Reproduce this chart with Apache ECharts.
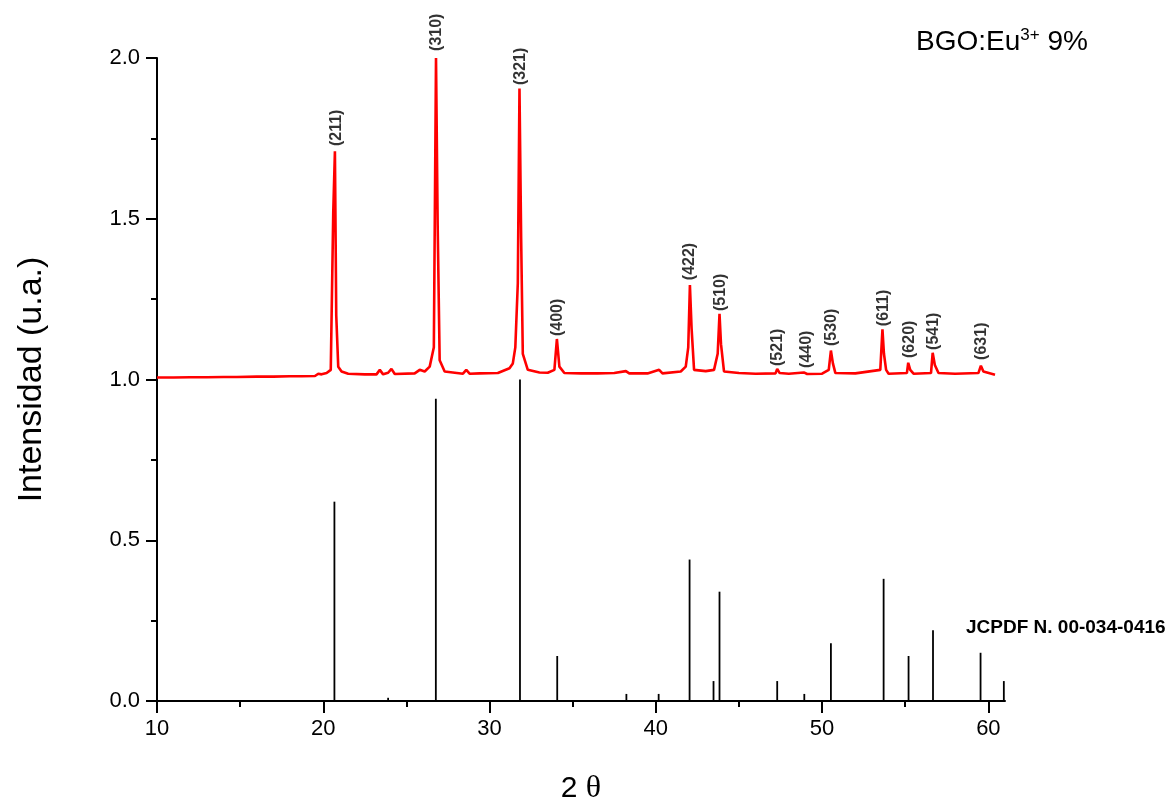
<!DOCTYPE html>
<html>
<head>
<meta charset="utf-8">
<script src="https://cdn.jsdelivr.net/npm/echarts@6/dist/echarts.min.js"></script>
<style>
html,body{margin:0;padding:0;background:#fff;}
#chart{width:1171px;height:804px;}
</style>
</head>
<body>
<div id="chart"></div>
<script>
// Measured XRD pattern (red), 2theta vs normalized intensity (offset +1)
const trace2theta = [10,11,12,13,14,14.6,14.7,14.8,16,17,18,18.5,18.6,18.7,19.5,19.7,19.9,20.2,20.45,20.6,20.7,20.78,20.9,21.1,21.5,22.5,23.2,23.4,23.6,23.9,24.1,24.3,25.5,25.8,26.1,26.4,26.65,26.78,26.88,27.0,27.3,28.4,28.6,28.8,29.4,30.5,31.2,31.4,31.55,31.7,31.8,31.9,32.0,32.3,33.0,33.5,33.9,34.05,34.2,34.5,35.5,36.5,37.5,38.2,38.4,39.5,40.2,40.4,41.5,41.8,41.95,42.05,42.15,42.3,43.0,43.5,43.72,43.83,43.92,44.1,45,46,47.2,47.3,47.45,48.0,48.9,49.1,50.0,50.4,50.53,50.65,50.8,52.0,53.5,53.63,53.72,53.85,54.0,55.1,55.18,55.3,55.5,56.55,56.65,56.78,57.0,58.0,59.4,59.55,59.7,60.4];
const traceIntensity = [1.006,1.006,1.007,1.007,1.008,1.008,1.014,1.008,1.009,1.009,1.010,1.010,1.016,1.010,1.011,1.018,1.016,1.020,1.030,1.520,1.710,1.200,1.040,1.025,1.018,1.016,1.016,1.030,1.016,1.021,1.033,1.017,1.019,1.030,1.025,1.040,1.100,2.000,1.480,1.060,1.025,1.018,1.030,1.018,1.019,1.020,1.035,1.050,1.100,1.300,1.905,1.440,1.080,1.030,1.022,1.021,1.030,1.126,1.040,1.020,1.019,1.019,1.020,1.026,1.019,1.019,1.030,1.019,1.025,1.040,1.100,1.294,1.160,1.030,1.026,1.030,1.080,1.204,1.110,1.025,1.020,1.018,1.019,1.033,1.020,1.018,1.022,1.017,1.018,1.030,1.090,1.050,1.020,1.019,1.030,1.156,1.080,1.030,1.018,1.020,1.052,1.030,1.018,1.020,1.083,1.045,1.020,1.018,1.020,1.043,1.025,1.015];

// Reference pattern JCPDF 00-034-0416 (sticks)
const ref2theta = [20.67,23.9,26.77,31.83,34.07,38.23,40.17,42.03,43.47,43.83,47.3,48.93,50.53,53.7,55.2,56.67,59.53,60.93];
const refIntensity = [0.62,0.01,0.94,1.0,0.14,0.022,0.022,0.44,0.062,0.34,0.062,0.022,0.18,0.38,0.14,0.22,0.15,0.062];

// Miller index labels
const hklText = ['(211)','(310)','(321)','(400)','(422)','(510)','(521)','(440)','(530)','(611)','(620)','(541)','(631)'];
const hkl2theta = [20.78,26.82,31.86,34.1,42.05,43.9,47.3,49.07,50.6,53.7,55.25,56.72,59.6];
const hklLevel = [1.726,2.022,1.916,1.135,1.309,1.213,1.042,1.036,1.104,1.166,1.067,1.092,1.061];

// Axis ticks
const xMajorTicks = [10,20,30,40,50,60];
const xMinorTicks = [15,25,35,45,55];

const FONT = '"Liberation Sans", Arial, sans-serif';

const chart = echarts.init(document.getElementById('chart'), null, {renderer:'canvas'});

const axisBase = {
  type:'value', min:10, max:61, position:'bottom',
  splitLine:{show:false}
};

chart.setOption({
  animation:false,
  backgroundColor:'#fff',
  grid:{left:157, right:166, top:58, bottom:103, containLabel:false, outerBoundsMode:'none'},
  xAxis:[
    Object.assign({}, axisBase, {
      name:'{a|2 }{b|θ}',
      nameLocation:'middle',
      nameGap:72,
      nameTextStyle:{rich:{
        a:{fontFamily:FONT, fontSize:30, color:'#000'},
        b:{fontFamily:'"Liberation Serif","DejaVu Serif",serif', fontSize:32, color:'#000'}
      }},
      axisLine:{show:true, lineStyle:{color:'#000', width:2}},
      axisTick:{show:true, inside:false, length:12, lineStyle:{color:'#000', width:2}, customValues:xMajorTicks},
      axisLabel:{show:true, margin:17, color:'#000', fontFamily:FONT, fontSize:22, customValues:xMajorTicks},
      minorTick:{show:false}
    }),
    Object.assign({}, axisBase, {
      axisLine:{show:false},
      axisTick:{show:true, inside:false, length:6, lineStyle:{color:'#000', width:2}, customValues:xMinorTicks},
      axisLabel:{show:false}
    })
  ],
  yAxis:{
    type:'value', min:0, max:2, interval:0.5,
    name:'Intensidad (u.a.)',
    nameLocation:'middle',
    nameGap:108,
    nameTextStyle:{fontFamily:FONT, fontSize:34, color:'#000'},
    axisLine:{show:true, lineStyle:{color:'#000', width:2}},
    axisTick:{show:true, inside:false, length:11, lineStyle:{color:'#000', width:2}},
    minorTick:{show:true, splitNumber:2, length:6, lineStyle:{color:'#000', width:2}},
    axisLabel:{margin:17, color:'#000', fontFamily:FONT, fontSize:22, formatter:v=>v.toFixed(1)},
    splitLine:{show:false}, minorSplitLine:{show:false}
  },
  series:[
    {
      type:'bar',
      xAxisIndex:0,
      barWidth:1.8,
      itemStyle:{color:'#000'},
      data:ref2theta.map((x,i)=>[x, refIntensity[i]]),
      silent:true
    },
    {
      type:'line',
      xAxisIndex:0,
      showSymbol:false,
      symbol:'none',
      lineStyle:{color:'#ff0000', width:2.6},
      data:trace2theta.map((x,i)=>[x, traceIntensity[i]]),
      silent:true,
      z:3
    },
    {
      type:'scatter',
      xAxisIndex:0,
      symbolSize:0,
      clip:false,
      data:hkl2theta.map((x,i)=>({value:[x, hklLevel[i]], name:hklText[i]})),
      label:{
        show:true, position:'top', distance:0, rotate:90, align:'left', verticalAlign:'middle',
        formatter:p=>p.name, fontFamily:FONT, fontWeight:'bold', fontSize:16, color:'#000'
      },
      silent:true,
      z:4
    }
  ],
  graphic:[
    {
      type:'text', left:916, top:27,
      style:{
        text:'{a|BGO:Eu}{s|3+}{a| 9%}',
        rich:{
          a:{fontFamily:FONT, fontSize:28, color:'#000', verticalAlign:'bottom'},
          s:{fontFamily:FONT, fontSize:17, color:'#000', verticalAlign:'top', padding:[0,0,12,0]}
        }
      }
    },
    {
      type:'text', left:966, top:618,
      style:{text:'JCPDF N. 00-034-0416', fontFamily:FONT, fontSize:19, fontWeight:'bold', fill:'#000'}
    }
  ]
});
</script>
</body>
</html>
